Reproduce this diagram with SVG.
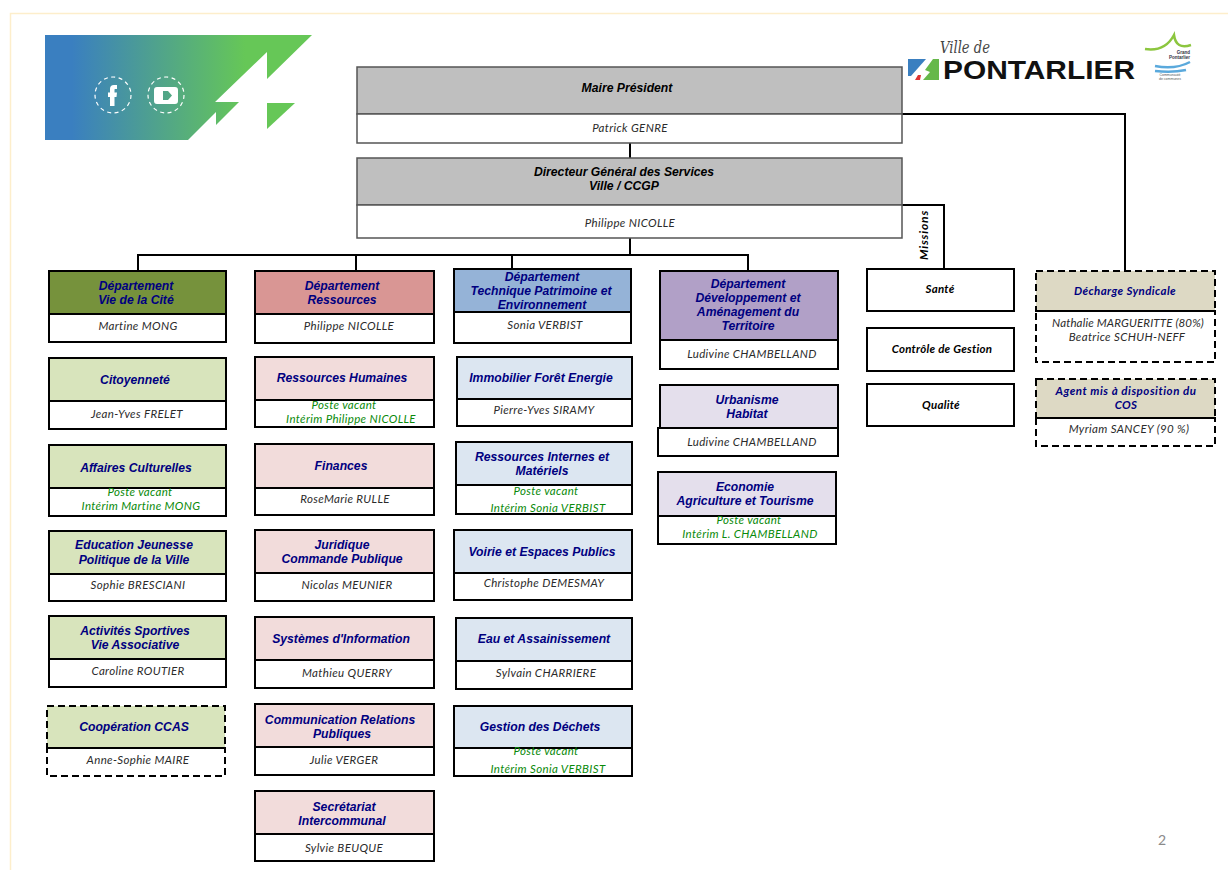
<svg xmlns="http://www.w3.org/2000/svg" width="1228" height="870" viewBox="0 0 1228 870">
<style>
.h{font:italic bold 12.2px "Liberation Sans",Arial,sans-serif;fill:#000080;text-anchor:middle}
.k{font:italic bold 12.200px "Liberation Sans",Arial,sans-serif;fill:#000;text-anchor:middle}
.n{font:italic 11.5px Lato,"Open Sans",sans-serif;fill:#2b2b2b;text-anchor:middle;letter-spacing:.35px}
.v{font:italic 11.5px Lato,"Open Sans",sans-serif;fill:#0a8a0a;text-anchor:middle;letter-spacing:.35px}
.m{font:italic bold 11.5px Lato,"Open Sans",sans-serif;fill:#000;text-anchor:middle;letter-spacing:.25px}
.d{font:italic bold 11.5px Lato,"Open Sans",sans-serif;fill:#000080;text-anchor:middle;letter-spacing:.4px}
.b{stroke:#000;stroke-width:2}
.t{stroke:#555;stroke-width:1.5}
.w{fill:#fff}
.dash{stroke:#000;stroke-width:2;stroke-dasharray:7 4}
.c{fill:none;stroke:#000;stroke-width:2}
.g{fill:#bfbfbf}.o{fill:#76923c}.lg{fill:#d8e4bc}.r{fill:#d99694}.lr{fill:#f2dcdb}.bl{fill:#95b3d7}.lb{fill:#dce6f1}.p{fill:#b1a0c7}.lp{fill:#e4dfec}.ta{fill:#ddd9c4}
</style>
<defs>
<linearGradient id="lg1" x1="45" x2="312" y1="0" y2="0" gradientUnits="userSpaceOnUse"><stop offset="0.1" stop-color="#3a7fc0"/><stop offset="0.75" stop-color="#66c757"/></linearGradient>
</defs>
<path d="M10.5 870V13.500H1228" fill="none" stroke="#fdeecb" stroke-width="1.500"/>
<g id="banner">
<path fill="url(#lg1)" d="M45 35H312L267 79V52L215 102H239L216 125V112L188 140H45Z"/>
<path fill="#66c757" d="M267 103H295L267 129Z"/>
<g fill="none" stroke="#fff" stroke-width="1.200" stroke-dasharray="4 3.500"><circle cx="113" cy="95" r="18"/><circle cx="166" cy="95" r="18"/></g>
<path fill="#fff" d="M110 106V97H108V92.500H110V89Q110 85 114 85H117V89H115Q114.500 89 114.500 90V92.500H117L116.500 97H114.500V106Z"/>
<path fill="#fff" fill-rule="evenodd" d="M157 87H175Q178 87 178 90V101Q178 104 175 104H157Q154 104 154 101V90Q154 87 157 87ZM163 91V100H168L172 95.500L168 91Z"/>
</g>
<g id="logo-pontarlier">
<text x="940" y="53" style="font:italic 16px 'DejaVu Serif',serif;fill:#444" textLength="50" lengthAdjust="spacingAndGlyphs">Ville de</text>
<path fill="#3a7fc0" d="M908 59H926L911 76H908Z"/><path fill="#66b84a" d="M939 59V80H923L930 72L925 70L933 59Z"/><path fill="#d33" d="M915 80H920L921 75H918Z"/>
<text x="943" y="79" style="font:bold 26.500px 'Liberation Sans',sans-serif;fill:#111" textLength="192" lengthAdjust="spacingAndGlyphs">PONTARLIER</text>
<path fill="none" stroke="#8cc63f" stroke-width="2.500" d="M1145 49Q1165 52 1174 35Q1176 50 1191 45"/>
<text x="1190" y="54" style="font:bold 4.500px 'Liberation Sans',sans-serif;fill:#334;text-anchor:end">Grand</text>
<text x="1190" y="59" style="font:bold 4.500px 'Liberation Sans',sans-serif;fill:#334;text-anchor:end">Pontarlier</text>
<path fill="none" stroke="#5aa9dc" stroke-width="2.500" d="M1155 66Q1175 70 1190 62M1155 71Q1172 73 1186 70"/>
<text x="1170" y="76" style="font:3.500px 'Liberation Sans',sans-serif;fill:#555;text-anchor:middle">Communauté</text>
<text x="1170" y="80" style="font:3.500px 'Liberation Sans',sans-serif;fill:#555;text-anchor:middle">de communes</text>
</g>
<g id="connectors">
<path class="c" d="M630 143V158M630 238V255M138 271V255H748V271M356 255V271M512 255V269"/>
<path class="c" d="M902 114H1125V271M720 205H944V269"/>
</g>
<text id="missions" transform="translate(928 235) rotate(-90)" class="m" style="font-size:12px;letter-spacing:.8px">Missions</text>
<g id="maire"><rect class="g t" x="357" y="67" width="545" height="47"/><rect class="w t" x="357" y="114" width="545" height="29"/><text class="k" x="627" y="92">Maire Président</text><text class="n" x="630" y="132">Patrick GENRE</text></g>
<g id="dgs"><rect class="g t" x="357" y="158" width="545" height="47"/><rect class="w t" x="357" y="205" width="545" height="33"/><text class="k" x="624" y="176">Directeur Général des Services</text><text class="k" x="624" y="190">Ville / CCGP</text><text class="n" x="630" y="227">Philippe NICOLLE</text></g>

<g id="dept-vie"><rect class="o b" x="49" y="271" width="177" height="43"/><rect class="w b" x="49" y="314" width="177" height="28"/><text class="h" x="136" y="290">Département</text><text class="h" x="136" y="304">Vie de la Cité</text><text class="n" x="138" y="330">Martine MONG</text></g>
<g id="citoyennete"><rect class="lg b" x="49" y="358" width="177" height="43"/><rect class="w b" x="49" y="401" width="177" height="28"/><text class="h" x="135" y="384">Citoyenneté</text><text class="n" x="137" y="418">Jean-Yves FRELET</text></g>
<g id="culture"><rect class="lg b" x="49" y="445" width="177" height="43"/><rect class="w b" x="49" y="488" width="177" height="28"/><text class="h" x="136" y="472">Affaires Culturelles</text><text class="v" x="140" y="496">Poste vacant</text><text class="v" x="141" y="510">Intérim Martine MONG</text></g>
<g id="education"><rect class="lg b" x="49" y="531" width="177" height="43"/><rect class="w b" x="49" y="574" width="177" height="27"/><text class="h" x="134" y="549">Education Jeunesse</text><text class="h" x="134" y="564">Politique de la Ville</text><text class="n" x="138" y="589">Sophie BRESCIANI</text></g>
<g id="sport"><rect class="lg b" x="49" y="616" width="177" height="43"/><rect class="w b" x="49" y="659" width="177" height="28"/><text class="h" x="135" y="635">Activités Sportives</text><text class="h" x="135" y="649">Vie Associative</text><text class="n" x="138" y="675">Caroline ROUTIER</text></g>
<g id="ccas"><rect class="lg dash" x="47" y="706" width="178" height="42"/><rect fill="none" class="dash" x="47" y="748" width="178" height="28"/><text class="h" x="134" y="731">Coopération CCAS</text><text class="n" x="138" y="764">Anne-Sophie MAIRE</text></g>

<g id="dept-res"><rect class="r b" x="255" y="271" width="179" height="43"/><rect class="w b" x="255" y="314" width="179" height="29"/><text class="h" x="342" y="290">Département</text><text class="h" x="342" y="304">Ressources</text><text class="n" x="349" y="330">Philippe NICOLLE</text></g>
<g id="rh"><rect class="lr b" x="255" y="357" width="179" height="43"/><rect class="w b" x="255" y="400" width="179" height="27"/><text class="h" x="342" y="382">Ressources Humaines</text><text class="v" x="344" y="409">Poste vacant</text><text class="v" x="351" y="423">Intérim Philippe NICOLLE</text></g>
<g id="finances"><rect class="lr b" x="255" y="444" width="179" height="44"/><rect class="w b" x="255" y="488" width="179" height="27"/><text class="h" x="341" y="470">Finances</text><text class="n" x="345" y="503">RoseMarie RULLE</text></g>
<g id="juridique"><rect class="lr b" x="255" y="530" width="179" height="43"/><rect class="w b" x="255" y="573" width="179" height="28"/><text class="h" x="342" y="549">Juridique</text><text class="h" x="342" y="563">Commande Publique</text><text class="n" x="347" y="589">Nicolas MEUNIER</text></g>
<g id="si"><rect class="lr b" x="255" y="617" width="179" height="43"/><rect class="w b" x="255" y="660" width="179" height="28"/><text class="h" x="341" y="643">Systèmes d'Information</text><text class="n" x="347" y="677">Mathieu QUERRY</text></g>
<g id="comm"><rect class="lr b" x="255" y="704" width="179" height="43"/><rect class="w b" x="255" y="747" width="179" height="28"/><text class="h" x="340" y="724">Communication Relations</text><text class="h" x="342" y="738">Publiques</text><text class="n" x="344" y="764">Julie VERGER</text></g>
<g id="secretariat"><rect class="lr b" x="255" y="791" width="179" height="43"/><rect class="w b" x="255" y="834" width="179" height="27"/><text class="h" x="344" y="811">Secrétariat</text><text class="h" x="342" y="825">Intercommunal</text><text class="n" x="344" y="852">Sylvie BEUQUE</text></g>

<g id="dept-tech"><rect class="bl b" x="454" y="269" width="177" height="43"/><rect class="w b" x="454" y="312" width="177" height="31"/><text class="h" x="542" y="281">Département</text><text class="h" x="541" y="295">Technique Patrimoine et</text><text class="h" x="542" y="309">Environnement</text><text class="n" x="545" y="329">Sonia VERBIST</text></g>
<g id="immobilier"><rect class="lb b" x="457" y="357" width="175" height="42"/><rect class="w b" x="457" y="399" width="175" height="27"/><text class="h" x="541" y="382">Immobilier Forêt Energie</text><text class="n" x="544" y="414">Pierre-Yves SIRAMY</text></g>
<g id="internes"><rect class="lb b" x="456" y="442" width="176" height="43"/><rect class="w b" x="456" y="485" width="176" height="29"/><text class="h" x="542" y="461">Ressources Internes et</text><text class="h" x="542" y="475">Matériels</text><text class="v" x="546" y="495">Poste vacant</text><text class="v" x="548" y="512">Intérim Sonia VERBIST</text></g>
<g id="voirie"><rect class="lb b" x="454" y="530" width="178" height="43"/><rect class="w b" x="454" y="573" width="178" height="27"/><text class="h" x="542" y="556">Voirie et Espaces Publics</text><text class="n" x="544" y="587">Christophe DEMESMAY</text></g>
<g id="eau"><rect class="lb b" x="456" y="618" width="176" height="43"/><rect class="w b" x="456" y="661" width="176" height="28"/><text class="h" x="544" y="643">Eau et Assainissement</text><text class="n" x="546" y="677">Sylvain CHARRIERE</text></g>
<g id="dechets"><rect class="lb b" x="454" y="706" width="178" height="42"/><rect class="w b" x="454" y="748" width="178" height="28"/><text class="h" x="540" y="731">Gestion des Déchets</text><text class="v" x="546" y="755">Poste vacant</text><text class="v" x="548" y="773">Intérim Sonia VERBIST</text></g>

<g id="dept-dev"><rect class="p b" x="660" y="271" width="178" height="69"/><rect class="w b" x="660" y="340" width="178" height="29"/><text class="h" x="748" y="288">Département</text><text class="h" x="748" y="302">Développement et</text><text class="h" x="748" y="316">Aménagement du</text><text class="h" x="748" y="330">Territoire</text><text class="n" x="752" y="358">Ludivine CHAMBELLAND</text></g>
<g id="urbanisme"><rect class="lp b" x="660" y="385" width="178" height="43"/><rect class="w b" x="658" y="428" width="180" height="28"/><text class="h" x="747" y="404">Urbanisme</text><text class="h" x="747" y="418">Habitat</text><text class="n" x="752" y="446">Ludivine CHAMBELLAND</text></g>
<g id="economie"><rect class="lp b" x="658" y="472" width="178" height="44"/><rect class="w b" x="658" y="516" width="178" height="28"/><text class="h" x="745" y="491">Economie</text><text class="h" x="745" y="505">Agriculture et Tourisme</text><text class="v" x="749" y="524">Poste vacant</text><text class="v" x="750" y="538">Intérim L. CHAMBELLAND</text></g>

<g id="sante"><rect class="w b" x="867" y="269" width="147" height="42"/><text class="m" x="940" y="293">Santé</text></g>
<g id="controle"><rect class="w b" x="867" y="328" width="147" height="43"/><text class="m" x="942" y="353">Contrôle de Gestion</text></g>
<g id="qualite"><rect class="w b" x="867" y="384" width="147" height="42"/><text class="m" x="941" y="409">Qualité</text></g>
<g id="decharge"><rect class="ta dash" x="1036" y="271" width="179" height="40"/><rect fill="none" class="dash" x="1036" y="311" width="179" height="51"/><text class="d" x="1125" y="295">Décharge  Syndicale</text><text class="n" x="1128" y="327" style="letter-spacing:.15px">Nathalie MARGUERITTE (80%)</text><text class="n" x="1127" y="341">Beatrice SCHUH-NEFF</text></g>
<g id="agent"><rect class="ta dash" x="1036" y="379" width="179" height="39"/><rect fill="none" class="dash" x="1036" y="418" width="179" height="28"/><text class="d" x="1126" y="395" style="letter-spacing:.55px">Agent mis à disposition du</text><text class="d" x="1126" y="409">COS</text><text class="n" x="1129" y="433">Myriam SANCEY (90 %)</text></g>
<text id="page" x="1162" y="845" style="font:14px Lato,sans-serif;fill:#8a8a8a;text-anchor:middle">2</text>
</svg>
